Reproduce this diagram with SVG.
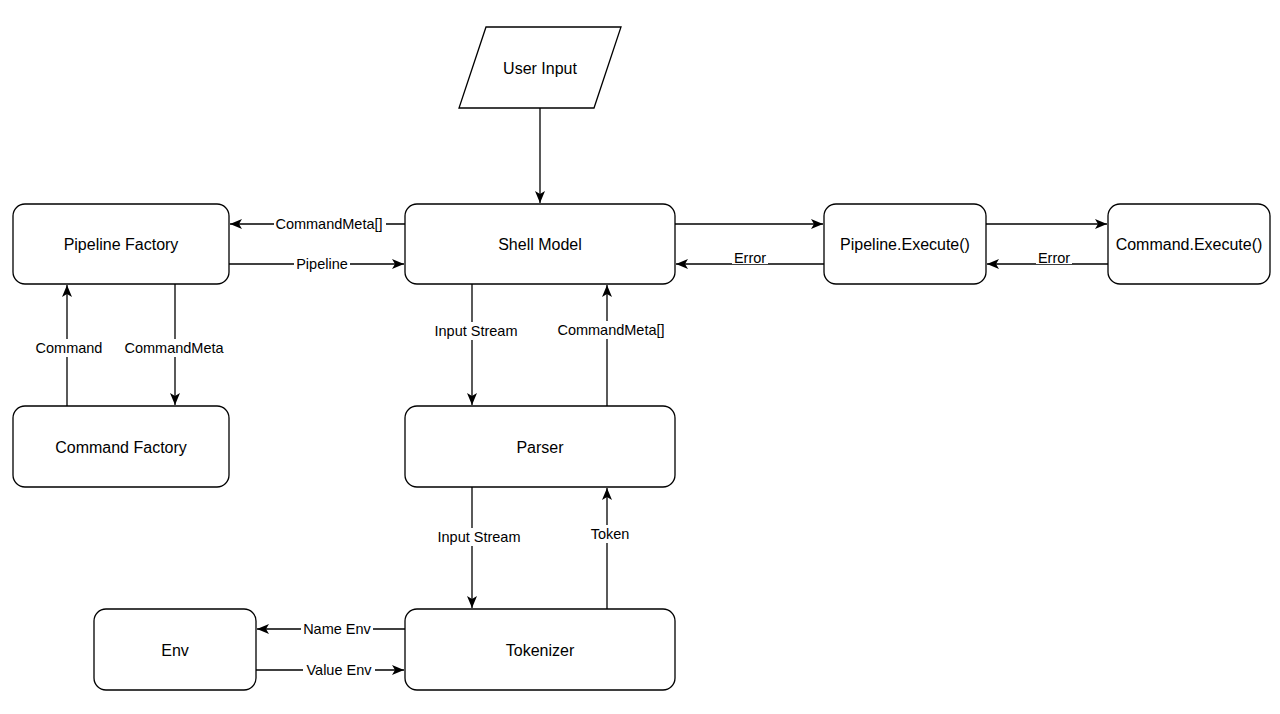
<svg xmlns="http://www.w3.org/2000/svg" width="1280" height="714" viewBox="0 0 1280 714">
  <style>
    .node { fill: #ffffff; stroke: #000000; stroke-width: 1.3; }
    .label { font-family: "Liberation Sans", Arial, sans-serif; font-size: 16px; fill: #000000; text-anchor: middle; dominant-baseline: central; }
    .edge { fill: none; stroke: #000000; stroke-width: 1.3; marker-end: url(#arrow); }
    .elabel { font-family: "Liberation Sans", Arial, sans-serif; font-size: 14.5px; fill: #000000; text-anchor: middle; dominant-baseline: central; }
    .lbg { fill: #ffffff; stroke: none; }
  </style>
  <defs>
    <marker id="arrow" viewBox="0 0 12 10" refX="12" refY="5" markerWidth="12" markerHeight="10" markerUnits="userSpaceOnUse" orient="auto">
      <path d="M0,0 L12,5 L0,10 L3,5 Z" fill="#000000"/>
    </marker>
  </defs>
  <rect width="1280" height="714" fill="#ffffff"/>

  <!-- connectors -->
  <g id="connectors">
    <line class="edge" x1="540" y1="108" x2="540" y2="203"/>

    <line class="edge" x1="405" y1="224" x2="230" y2="224"/>
    <rect class="lbg" x="274" y="215" width="112" height="18"/>
    <text class="elabel" x="329" y="224">CommandMeta[]</text>

    <line class="edge" x1="229" y1="264" x2="404" y2="264"/>
    <rect class="lbg" x="294" y="255" width="56" height="18"/>
    <text class="elabel" x="322" y="264">Pipeline</text>

    <line class="edge" x1="675" y1="224" x2="823" y2="224"/>

    <line class="edge" x1="824" y1="264" x2="676" y2="264"/>
    <rect class="lbg" x="732" y="250" width="36" height="14"/>
    <text class="elabel" x="750" y="258">Error</text>

    <line class="edge" x1="986" y1="224" x2="1107" y2="224"/>

    <line class="edge" x1="1108" y1="264" x2="987" y2="264"/>
    <rect class="lbg" x="1036" y="250" width="36" height="14"/>
    <text class="elabel" x="1054" y="258">Error</text>

    <line class="edge" x1="67" y1="406" x2="67" y2="285"/>
    <rect class="lbg" x="34" y="339" width="70" height="18"/>
    <text class="elabel" x="69" y="348">Command</text>

    <line class="edge" x1="175" y1="284" x2="175" y2="405"/>
    <rect class="lbg" x="122" y="339" width="104" height="18"/>
    <text class="elabel" x="174" y="348">CommandMeta</text>

    <line class="edge" x1="472" y1="284" x2="472" y2="405"/>
    <rect class="lbg" x="432" y="322" width="88" height="18"/>
    <text class="elabel" x="476" y="331">Input Stream</text>

    <line class="edge" x1="607" y1="406" x2="607" y2="285"/>
    <rect class="lbg" x="555" y="321" width="112" height="18"/>
    <text class="elabel" x="611" y="330">CommandMeta[]</text>

    <line class="edge" x1="472" y1="487" x2="472" y2="608"/>
    <rect class="lbg" x="435" y="528" width="88" height="18"/>
    <text class="elabel" x="479" y="537">Input Stream</text>

    <line class="edge" x1="607" y1="609" x2="607" y2="488"/>
    <rect class="lbg" x="588" y="525" width="44" height="18"/>
    <text class="elabel" x="610" y="534">Token</text>

    <line class="edge" x1="405" y1="629" x2="257" y2="629"/>
    <rect class="lbg" x="301" y="620" width="72" height="18"/>
    <text class="elabel" x="337" y="629">Name Env</text>

    <line class="edge" x1="256" y1="670" x2="404" y2="670"/>
    <rect class="lbg" x="303" y="661" width="72" height="18"/>
    <text class="elabel" x="339" y="670">Value Env</text>
  </g>

  <!-- nodes -->
  <g id="user-input">
    <polygon class="node" points="486,27 621,27 594,108 459,108"/>
    <text class="label" x="540" y="68">User Input</text>
  </g>
  <g id="shell-model">
    <rect class="node" x="405" y="204" width="270" height="80" rx="12"/>
    <text class="label" x="540" y="244">Shell Model</text>
  </g>
  <g id="pipeline-factory">
    <rect class="node" x="13" y="204" width="216" height="80" rx="12"/>
    <text class="label" x="121" y="244">Pipeline Factory</text>
  </g>
  <g id="pipeline-execute">
    <rect class="node" x="824" y="204" width="162" height="80" rx="12"/>
    <text class="label" x="905" y="244">Pipeline.Execute()</text>
  </g>
  <g id="command-execute">
    <rect class="node" x="1108" y="204" width="162" height="80" rx="12"/>
    <text class="label" x="1189" y="244">Command.Execute()</text>
  </g>
  <g id="command-factory">
    <rect class="node" x="13" y="406" width="216" height="81" rx="12"/>
    <text class="label" x="121" y="447">Command Factory</text>
  </g>
  <g id="parser">
    <rect class="node" x="405" y="406" width="270" height="81" rx="12"/>
    <text class="label" x="540" y="447">Parser</text>
  </g>
  <g id="tokenizer">
    <rect class="node" x="405" y="609" width="270" height="81" rx="12"/>
    <text class="label" x="540" y="650">Tokenizer</text>
  </g>
  <g id="env">
    <rect class="node" x="94" y="609" width="162" height="81" rx="12"/>
    <text class="label" x="175" y="650">Env</text>
  </g>
</svg>
